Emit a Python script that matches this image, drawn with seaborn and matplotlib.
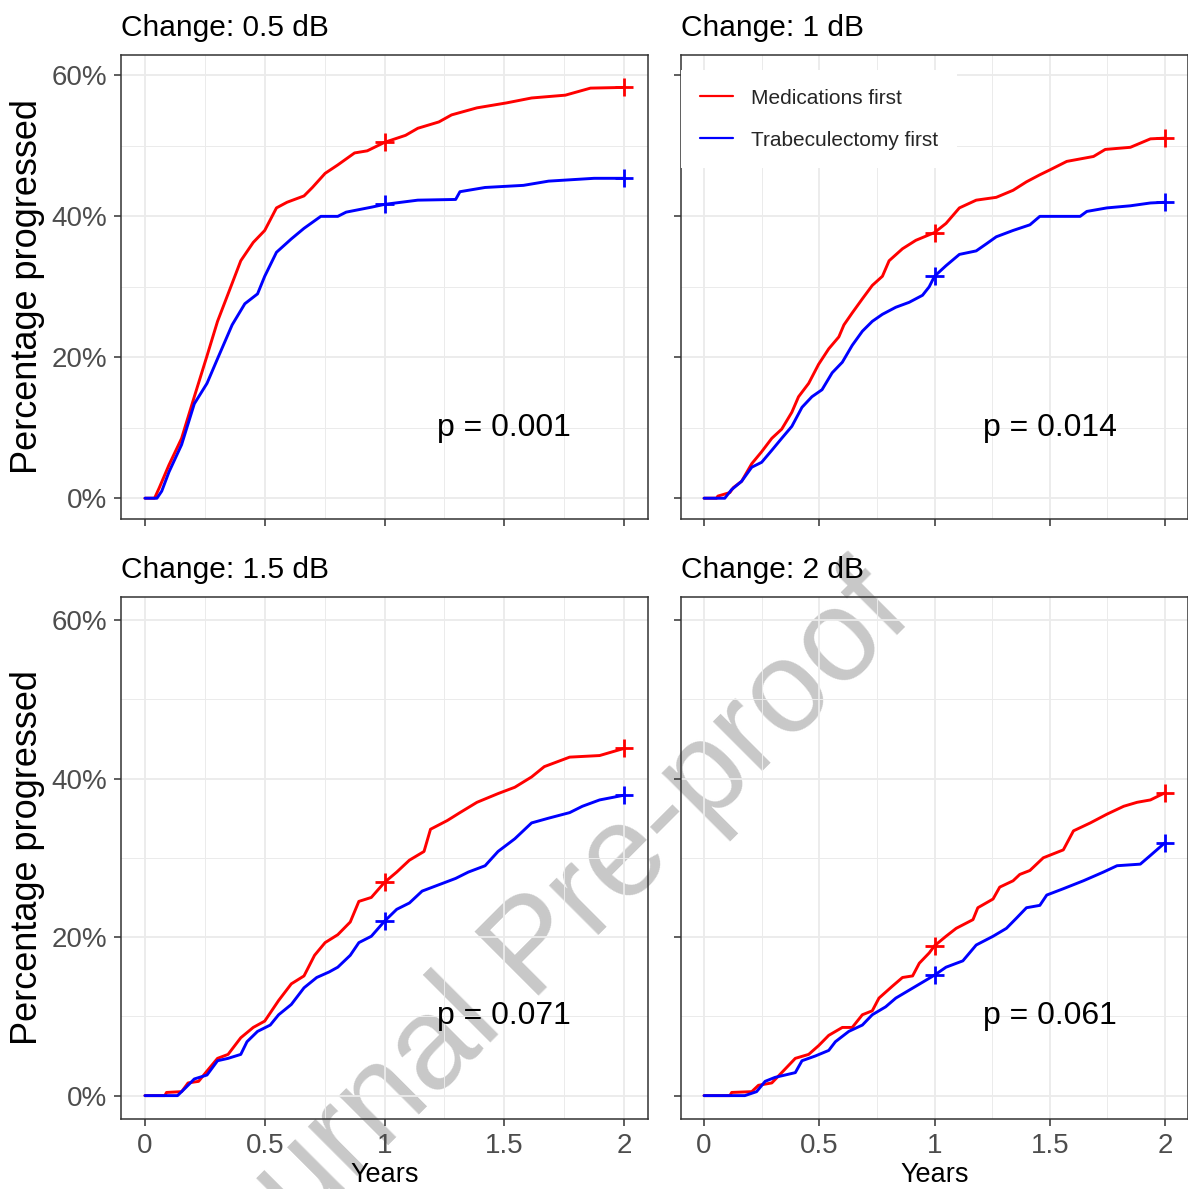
import pandas as pd
import seaborn as sns
import matplotlib.pyplot as plt

# values (cumulative % progressed by years)
groups = ["Medications first", "Trabeculectomy first"]
panel_titles = ["Change: 0.5 dB", "Change: 1 dB", "Change: 1.5 dB", "Change: 2 dB"]
p_labels = ["p = 0.001", "p = 0.014", "p = 0.071", "p = 0.061"]
x_ticks = [0, 0.5, 1, 1.5, 2]
x_tick_labels = ["0", "0.5", "1", "1.5", "2"]
y_ticks = [0, 20, 40, 60]
y_tick_labels = ["0%", "20%", "40%", "60%"]

# Change: 0.5 dB
t_05_med = [0, 0.04, 0.06, 0.1, 0.153, 0.206, 0.259, 0.303, 0.364, 0.4, 0.452, 0.5, 0.549, 0.593,
            0.664, 0.699, 0.752, 0.805, 0.875, 0.928, 1.0, 1.088, 1.139, 1.227, 1.28, 1.386,
            1.509, 1.614, 1.755, 1.86, 2.0]
p_05_med = [0, 0, 1.5, 4.7, 8.5, 14.4, 20.2, 25.1, 30.5, 33.7, 36.3, 38.0, 41.2, 42.0,
            42.9, 44.1, 46.1, 47.3, 49.0, 49.3, 50.5, 51.5, 52.5, 53.4, 54.4, 55.4,
            56.1, 56.8, 57.2, 58.2, 58.3]
t_05_trab = [0, 0.05, 0.07, 0.1, 0.153, 0.206, 0.259, 0.303, 0.364, 0.417, 0.47, 0.5, 0.549,
             0.611, 0.664, 0.734, 0.805, 0.84, 0.945, 1.0, 1.139, 1.297, 1.315, 1.42, 1.58,
             1.685, 1.875, 2.0]
p_05_trab = [0, 0, 1.0, 3.7, 7.6, 13.4, 16.3, 19.8, 24.6, 27.6, 29.0, 31.5, 34.9,
             36.8, 38.3, 40.0, 40.0, 40.6, 41.3, 41.7, 42.3, 42.4, 43.5, 44.1, 44.4,
             45.0, 45.4, 45.4]

# Change: 1 dB
t_1_med = [0, 0.054, 0.06, 0.112, 0.127, 0.163, 0.207, 0.25, 0.294, 0.337, 0.381, 0.41, 0.454,
           0.497, 0.541, 0.585, 0.607, 0.643, 0.687, 0.73, 0.774, 0.803, 0.861, 0.919, 1.0,
           1.05, 1.108, 1.181, 1.268, 1.341, 1.399, 1.457, 1.501, 1.574, 1.69, 1.741, 1.85,
           1.937, 2.0]
p_1_med = [0, 0, 0.3, 0.8, 1.5, 2.4, 4.9, 6.6, 8.5, 9.8, 12.2, 14.4, 16.3,
           19.0, 21.2, 22.9, 24.6, 26.3, 28.3, 30.2, 31.5, 33.7, 35.4, 36.6, 37.7,
           39.0, 41.2, 42.3, 42.7, 43.7, 44.9, 45.9, 46.6, 47.8, 48.5, 49.5, 49.8,
           51.0, 51.1]
t_1_trab = [0, 0.09, 0.119, 0.163, 0.207, 0.25, 0.294, 0.337, 0.381, 0.425, 0.468, 0.512, 0.556,
            0.6, 0.643, 0.687, 0.73, 0.774, 0.832, 0.89, 0.948, 0.977, 1.0, 1.05, 1.108,
            1.181, 1.225, 1.268, 1.341, 1.414, 1.457, 1.632, 1.661, 1.748, 1.85, 1.937, 2.0]
p_1_trab = [0, 0, 1.2, 2.4, 4.4, 5.1, 6.8, 8.5, 10.2, 12.9, 14.4, 15.4, 17.8,
            19.3, 21.7, 23.7, 25.1, 26.1, 27.1, 27.8, 28.8, 30.0, 31.5, 33.0, 34.6,
            35.1, 36.1, 37.1, 38.0, 38.8, 40.0, 40.0, 40.7, 41.2, 41.5, 41.9, 42.0]

# Change: 1.5 dB
t_15_med = [0, 0.083, 0.09, 0.153, 0.18, 0.224, 0.259, 0.303, 0.347, 0.4, 0.452, 0.5, 0.558,
            0.611, 0.664, 0.708, 0.752, 0.805, 0.857, 0.893, 0.945, 1.0, 1.051, 1.104, 1.165,
            1.192, 1.262, 1.315, 1.386, 1.474, 1.544, 1.614, 1.667, 1.773, 1.898, 2.0]
p_15_med = [0, 0, 0.4, 0.5, 1.6, 1.8, 3.1, 4.7, 5.2, 7.3, 8.6, 9.4, 12.0,
            14.1, 15.1, 17.7, 19.3, 20.3, 21.9, 24.5, 25.0, 26.9, 28.2, 29.7, 30.8,
            33.6, 34.7, 35.7, 37.0, 38.1, 38.9, 40.2, 41.5, 42.7, 42.9, 43.8]
t_15_trab = [0, 0.136, 0.17, 0.206, 0.259, 0.303, 0.347, 0.4, 0.426, 0.47, 0.523, 0.558, 0.611,
             0.664, 0.717, 0.769, 0.805, 0.857, 0.893, 0.945, 1.0, 1.051, 1.104, 1.157, 1.227,
             1.297, 1.35, 1.42, 1.474, 1.544, 1.614, 1.685, 1.773, 1.826, 1.898, 2.0]
p_15_trab = [0, 0, 1.0, 2.1, 2.6, 4.4, 4.7, 5.2, 6.8, 8.1, 8.9, 10.2, 11.5,
             13.6, 14.9, 15.6, 16.2, 17.7, 19.3, 20.1, 22.0, 23.5, 24.3, 25.8, 26.6,
             27.4, 28.2, 29.0, 30.8, 32.4, 34.4, 35.0, 35.7, 36.5, 37.3, 37.9]

# Change: 2 dB
t_2_med = [0, 0.112, 0.12, 0.207, 0.236, 0.294, 0.337, 0.396, 0.454, 0.497, 0.541, 0.6, 0.643,
           0.687, 0.73, 0.759, 0.817, 0.861, 0.905, 0.934, 0.977, 1.0, 1.05, 1.094, 1.167,
           1.188, 1.254, 1.283, 1.341, 1.37, 1.414, 1.472, 1.559, 1.603, 1.676, 1.748, 1.821,
           1.879, 1.937, 2.0]
p_2_med = [0, 0, 0.4, 0.5, 1.3, 1.6, 2.9, 4.7, 5.2, 6.3, 7.6, 8.6, 8.6,
           10.2, 10.7, 12.3, 13.8, 14.9, 15.1, 16.7, 18.0, 18.9, 20.1, 21.1, 22.2,
           23.7, 24.8, 26.3, 27.1, 27.9, 28.4, 30.0, 31.0, 33.4, 34.4, 35.5, 36.5,
           37.0, 37.3, 38.2]
t_2_trab = [0, 0.177, 0.228, 0.265, 0.308, 0.352, 0.396, 0.425, 0.483, 0.541, 0.57, 0.628, 0.687,
            0.73, 0.788, 0.832, 0.89, 0.948, 1.0, 1.05, 1.123, 1.181, 1.254, 1.312, 1.356,
            1.399, 1.457, 1.487, 1.559, 1.646, 1.733, 1.792, 1.893, 1.937, 2.0]
p_2_trab = [0, 0, 0.5, 1.8, 2.3, 2.6, 2.9, 4.4, 5.0, 5.7, 6.8, 8.1, 8.9,
            10.2, 11.2, 12.3, 13.3, 14.3, 15.2, 16.2, 17.0, 19.0, 20.1, 21.1, 22.4,
            23.7, 24.0, 25.3, 26.1, 27.1, 28.2, 29.0, 29.2, 30.3, 31.9]

curves = [
    (t_05_med, p_05_med, t_05_trab, p_05_trab),
    (t_1_med, p_1_med, t_1_trab, p_1_trab),
    (t_15_med, p_15_med, t_15_trab, p_15_trab),
    (t_2_med, p_2_med, t_2_trab, p_2_trab),
]

frames = []
for title, (tm, pm, tt, pt) in zip(panel_titles, curves):
    frames.append(pd.DataFrame({"panel": title, "group": groups[0], "years": tm, "pct": pm}))
    frames.append(pd.DataFrame({"panel": title, "group": groups[1], "years": tt, "pct": pt}))
df = pd.concat(frames, ignore_index=True)
censor = df[df["years"].isin([1.0, 2.0])]

palette = {groups[0]: "#FF0000", groups[1]: "#0000FF"}

sns.set_theme(style="white")
plt.rcParams["font.family"] = ["Liberation Sans", "DejaVu Sans"]

W, H = 1188, 1189
fig = plt.figure(figsize=(W / 100, H / 100), dpi=100)
fig.patch.set_facecolor("white")

# panel boxes in pixels: left, top, right, bottom
boxes = [(121, 55, 648, 519), (681, 55, 1188, 519),
         (121, 597, 648, 1119), (681, 597, 1188, 1119)]

for i, (title, box) in enumerate(zip(panel_titles, boxes)):
    l, t, r, b = box
    ax = fig.add_axes([l / W, 1 - b / H, (r - l) / W, (b - t) / H])
    ax.set_facecolor("none")
    sub = df[df["panel"] == title]
    sns.lineplot(data=sub, x="years", y="pct", hue="group", palette=palette,
                 estimator=None, sort=False, linewidth=2.1, legend=(i == 1), ax=ax, zorder=3)
    sns.scatterplot(data=censor[censor["panel"] == title], x="years", y="pct", hue="group",
                    palette=palette, marker="+", s=170, linewidth=2.0, legend=False, ax=ax, zorder=4)

    ax.set_xlim(-0.1, 2.1)
    ax.set_ylim(-2.95, 62.9)
    ax.set_xticks(x_ticks)
    ax.set_xticks([0.25, 0.75, 1.25, 1.75], minor=True)
    ax.set_yticks(y_ticks)
    ax.set_yticks([10, 30, 50], minor=True)
    ax.set_xticklabels(x_tick_labels)
    ax.set_yticklabels(y_tick_labels)
    ax.grid(which="major", color="#EBEBEB", linewidth=1.3, zorder=0)
    ax.grid(which="minor", color="#EBEBEB", linewidth=0.7, zorder=0)
    ax.set_axisbelow(True)
    for s in ax.spines.values():
        s.set_color("#333333")
        s.set_linewidth(1.1)
    ax.tick_params(which="major", length=5, width=1.1, color="#333333",
                   labelcolor="#4D4D4D", labelsize=20, bottom=True, left=True, pad=5)
    ax.tick_params(which="minor", length=0)
    ax.tick_params(labelbottom=(i >= 2), labelleft=(i % 2 == 0))
    ax.set_xlabel("")
    ax.set_ylabel("")

    ax.set_title(title, loc="left", fontsize=21.5, pad=14, color="black")
    ax.text(1.5, 10, p_labels[i], ha="center", va="center", fontsize=23, color="black", zorder=5)

    if i % 2 == 0:
        ax.text(-0.178, 0.5, "Percentage progressed", rotation=90, ha="center", va="center",
                fontsize=26, color="black", transform=ax.transAxes)
    if i >= 2:
        ax.text(0.5, -0.121, "Years", ha="center", va="baseline", fontsize=19.5,
                color="black", transform=ax.transAxes)

    if i == 1:
        old = ax.get_legend()
        handles = old.legend_handles
        labels = [tx.get_text() for tx in old.get_texts()]
        for h in handles:
            h.set_linewidth(1.6)
        leg = ax.legend(handles, labels, loc="upper left", bbox_to_anchor=(0, (519 - 70) / 464),
                        borderaxespad=0, frameon=True, fancybox=False, facecolor="white",
                        edgecolor="none", framealpha=1, fontsize=15, handlelength=1.6,
                        handletextpad=0.85, borderpad=0.9, labelspacing=1.1)
        leg.set_zorder(6)

# watermark
fig.text(535 / W, 1 - 950 / H, "Journal Pre-proof", rotation=45, rotation_mode="anchor",
         ha="center", va="center", fontsize=94, color="#C8C8C8", zorder=-1)

fig.savefig("out.png", dpi=100)
